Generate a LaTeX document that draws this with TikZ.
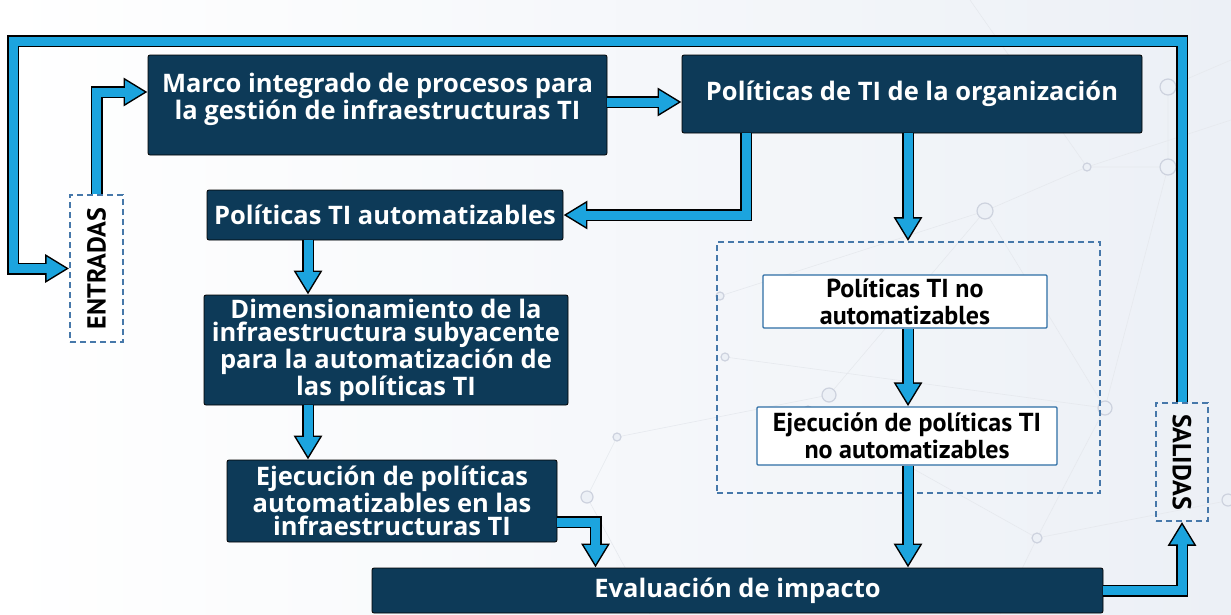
\documentclass[tikz,border=0pt]{standalone}
\usepackage{fontspec}
\usepackage{graphicx}
\setmainfont{Open Sans}
\newfontfamily\estrecha{PT Sans}
\usetikzlibrary{arrows.meta}

\definecolor{azuloscuro}{RGB}{13,58,88}
\definecolor{azulflecha}{RGB}{28,164,222}
\definecolor{azulguion}{RGB}{70,120,170}
\definecolor{azulborde}{RGB}{45,110,165}
\definecolor{fondo}{RGB}{236,240,246}
\definecolor{red}{RGB}{205,210,222}

\tikzset{
  caja/.style={draw=black, line width=0.8pt, fill=azuloscuro, text=white, rounded corners=2pt,
    align=center, inner sep=0pt, font=\fontsize{25.5}{23.5}\selectfont\bfseries},
  cajablanca/.style={draw=azulborde, line width=1.2pt, fill=white, text=black, rounded corners=1pt,
    align=center, inner sep=0pt, font=\estrecha\fontsize{26}{24}\selectfont\bfseries},
  guion/.style={draw=azulguion, line width=1.6pt, dash pattern=on 6pt off 4pt, inner sep=0pt,
    font=\estrecha\fontsize{26}{26}\selectfont\bfseries},
  flechaborde/.style={line width=12pt, black, line join=miter, -{Triangle[length=24pt,width=27pt]}},
  flechacuerpo/.style={line width=9pt, azulflecha, line join=miter, shorten >=3pt,
    -{Triangle[length=19.5pt,width=22pt]}},
  nodo/.style={draw=red, line width=1.2pt, fill=fondo},
}
\newcommand{\flecha}[1]{\draw[flechaborde] #1; \draw[flechacuerpo] #1;}

\begin{document}
\begin{tikzpicture}[x=1pt,y=1pt]
\shade[left color=white, right color=fondo] (0,0) rectangle (1231,-614);
\useasboundingbox (0,0) rectangle (1231,-614);

\draw[red!50, line width=0.6pt] (1168,-87) -- (1168,-167) -- (1087,-167) -- (985,-211) -- (829,-395)
  (1168,-167) -- (1105,-408) -- (1037,-538) -- (1231,-500) (985,-211) -- (1105,-408)
  (829,-395) -- (617,-437) -- (587,-497) (808,-410) -- (1037,-538) (720,-296) -- (985,-211)
  (1087,-167) -- (1231,-120) (1168,-87) -- (1231,-60) (725,-357) -- (1105,-408)
  (970,0) -- (1087,-167) (1037,-538) -- (1000,-614) (587,-497) -- (650,-614);
\foreach \px/\py/\r in {1168/87/8, 1168/167/8, 1087/167/4, 985/211/8, 829/395/7, 808/410/4,
  1105/408/7, 1037/538/5, 617/437/4, 587/497/6, 1228/500/6, 720/296/4, 725/357/4}
  \draw[nodo] (\px,-\py) circle (\r);

\node[caja, minimum width=459pt, minimum height=100pt] (marco) at (377.5,-105)
  {Marco integrado de procesos para\\la gestión de infraestructuras TI\\[-6pt]\mbox{}};
\node[caja, minimum width=460pt, minimum height=78pt] (politicas) at (912,-94)
  {Políticas de TI de la organización};
\node[caja, minimum width=356pt, minimum height=50pt] (autom) at (385,-215)
  {Políticas TI automatizables};
\node[caja, minimum width=364pt, minimum height=110pt] (dimens) at (386,-350)
  {Dimensionamiento de la\\infraestructura subyacente\\para la automatización de\\las políticas TI};
\node[caja, minimum width=330pt, minimum height=82pt] (ejecauto) at (392,-501)
  {Ejecución de políticas\\automatizables en las\\infraestructuras TI};
\node[caja, minimum width=731pt, minimum height=45pt] (evalua) at (737.5,-590.5)
  {Evaluación de impacto};
\node[guion, minimum width=383pt, minimum height=251pt] (grupo) at (908.5,-367.5) {};
\node[cajablanca, minimum width=284pt, minimum height=53pt] (noauto) at (905,-301.5)
  {Políticas TI no\\[3pt]automatizables};
\node[cajablanca, minimum width=300pt, minimum height=58pt] (ejecnoauto) at (907,-436)
  {Ejecución de políticas TI\\[3pt]no automatizables};
\node[guion, fill=white, minimum width=53pt, minimum height=147pt] (entradas) at (96.5,-268.5)
  {\rotatebox{90}{ENTRADAS}};
\node[guion, minimum width=52pt, minimum height=118pt] (salidas) at (1182,-462)
  {\rotatebox{-90}{SALIDAS}};

\coordinate (colL) at (308,0);
\coordinate (colR) at (908,0);
\coordinate (lazo) at (13,-41);

\flecha{(entradas.north) |- ([yshift=13pt]marco.west)}
\flecha{([yshift=3pt]marco.east) -- ([yshift=3pt]marco.east -| politicas.west)}
\flecha{([xshift=-166pt]politicas.south) |- (autom.east)}
\flecha{(politicas.south -| colR) -- (grupo.north -| colR)}
\flecha{(autom.south -| colL) -- (dimens.north -| colL)}
\flecha{(dimens.south -| colL) -- (ejecauto.north -| colL)}
\flecha{([yshift=-21pt]ejecauto.east) -| ([xshift=-142pt]evalua.north)}
\flecha{(noauto.south -| colR) -- (ejecnoauto.north -| colR)}
\flecha{(ejecnoauto.south -| colR) -- (evalua.north -| colR)}
\flecha{(evalua.east) -| (salidas.south)}
\flecha{(salidas.north) |- (lazo) |- (entradas.west)}
\end{tikzpicture}
\end{document}
